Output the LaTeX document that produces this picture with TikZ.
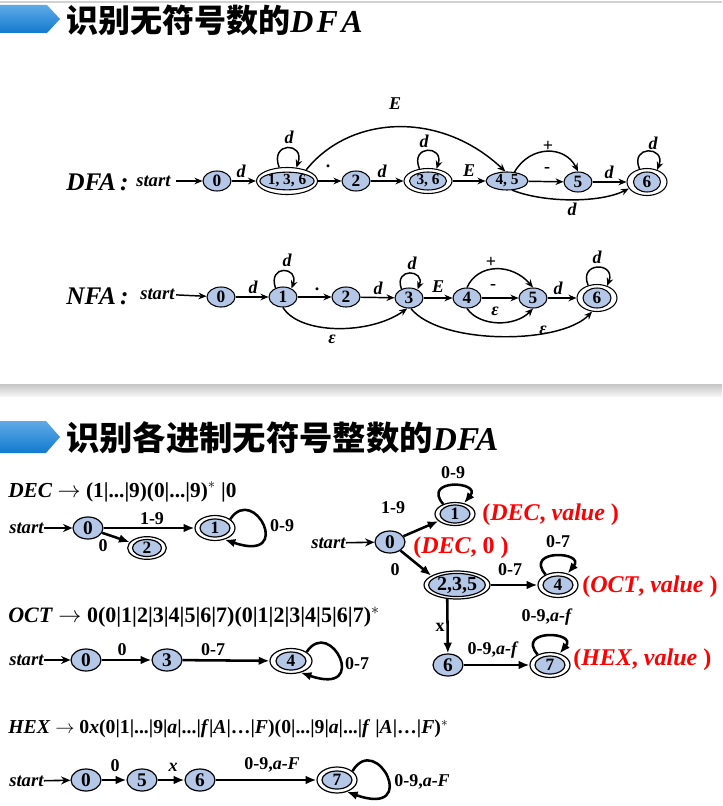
\documentclass[tikz,border=0pt]{standalone}
\usepackage{fontspec}
\setmainfont{Liberation Serif}
\newfontfamily\cjk{Noto Sans CJK SC}
\usetikzlibrary{shapes.geometric,arrows.meta}
\definecolor{nb}{RGB}{180,199,231}
\definecolor{bannerA}{RGB}{95,170,230}
\definecolor{bannerB}{RGB}{18,122,206}
\newcommand{\myfs}[1]{\fontsize{#1}{#1}\selectfont}
\begin{document}
\begin{tikzpicture}[x=0.75pt,y=-0.75pt,
  tarr/.style={line width=1.1pt,-{Stealth[length=6pt,width=5pt]}},
  barr/.style={line width=1.9pt,-{Latex[length=8pt,width=6.5pt]}},
  sarr/.style={line width=1.2pt,-{Stealth[length=7pt,width=6pt]}},
  tnode/.style={ellipse,draw,line width=0.8pt,fill=nb,inner sep=0pt,minimum width=21pt,minimum height=15pt,font=\bfseries\myfs{13}},
  touter/.style={ellipse,draw,line width=0.8pt,fill=white,inner sep=0pt},
  tinner/.style={ellipse,draw,line width=0.8pt,fill=nb,inner sep=0pt,font=\bfseries\myfs{13}},
  bnode/.style={ellipse,draw,line width=0.9pt,fill=nb,inner sep=0pt,minimum width=22.5pt,minimum height=16.5pt,font=\bfseries\myfs{14.5}},
  bouter/.style={ellipse,draw,line width=0.9pt,fill=white,inner sep=0pt,minimum width=30pt,minimum height=18.75pt},
  binner/.style={ellipse,draw,line width=0.9pt,fill=nb,inner sep=0pt,minimum width=22.5pt,minimum height=13.5pt,font=\bfseries\myfs{13}},
  tl/.style={inner sep=0pt,font=\bfseries\itshape\myfs{13.5}},
  tlb/.style={inner sep=0pt,font=\bfseries\myfs{13.5}},
  tlbig/.style={inner sep=0pt,anchor=west,font=\bfseries\itshape\myfs{19}},
  tstart/.style={inner sep=0pt,anchor=west,font=\bfseries\itshape\myfs{14}},
  blb/.style={inner sep=0pt,font=\bfseries\myfs{13.5}},
  formula/.style={inner sep=0pt,anchor=west,font=\bfseries\myfs{16}},
  redtxt/.style={inner sep=0pt,anchor=west,text=red,font=\bfseries\myfs{18}}
]
\useasboundingbox (0,0) rectangle (722,806);
\fill[white] (0,0) rectangle (722,806);
\draw[gray!35,line width=1pt] (0,2) -- (722,2);

% ---------- banner 1 ----------
\shade[top color=bannerA,bottom color=bannerB] (0,5) -- (47,5) -- (60,19) -- (47,33) -- (0,33) -- cycle;
\node[inner sep=0pt,anchor=west] (title1) at (66,20) {\cjk\bfseries\myfs{24}识别无符号数的\rmfamily\bfseries\itshape D\kern2.5pt F\kern2.5pt A};

% ---------- DFA ----------
\node[tlbig] (dfaL) at (66,182) {DFA\,:};
\node[tstart] (dst) at (136,181) {start};
\node[tnode] (d0) at (217,181) {0};
\node[touter,minimum width=45.75pt,minimum height=20.25pt] (d136o) at (287,181) {};
\node[tinner,minimum width=37.5pt,minimum height=12.75pt,font=\bfseries\myfs{11.5}] (d136) at (287,181) {1,\ 3,\ 6};
\node[tnode] (d2) at (356,181) {2};
\node[touter,minimum width=36pt,minimum height=18.75pt] (d36o) at (428,181) {};
\node[tinner,minimum width=27.75pt,minimum height=13.5pt,font=\bfseries\myfs{11.5}] (d36) at (428,181) {3,\ 6};
\node[tnode,minimum width=31.5pt,minimum height=13.5pt,font=\bfseries\myfs{11.5}] (d45) at (507,181) {4,\ 5};
\node[tnode] (d5) at (578,182) {5};
\node[touter,minimum width=30pt,minimum height=20.25pt] (d6o) at (647,182) {};
\node[tinner,minimum width=20.25pt,minimum height=15pt] (d6) at (647,182) {6};

\draw[tarr,shorten <=4pt] (dst) -- (d0);
\draw[tarr] (d0) -- (d136o);
\draw[tarr] (d136o) -- (d2);
\draw[tarr] (d2) -- (d36o);
\draw[tarr] (d36o) -- (d45);
\draw[tarr] (d45) -- (d5);
\draw[tarr] (d5) -- (d6o);
\draw[tarr] (d136o.120) .. controls +(-10,-26) and +(9,-26) .. (d136o.55);
\draw[tarr] (d36o.125) .. controls +(-10,-24) and +(8,-24) .. (d36o.55);
\draw[tarr] (d6o.120) .. controls +(-10,-24) and +(9,-24) .. (d6o.50);
\draw[tarr] (d136o.30) .. controls (350,115) and (440,110) .. (d45.100);
\draw[tarr] (d45.50) .. controls (530,145) and (565,145) .. (d5.north);
\draw[tarr] (d45.-60) .. controls (545,203) and (600,203) .. (d6o.200);

\node[tl] (lE1) at (395,104) {E};
\node[tl] (ld01) at (241,171) {d};
\node[tl] (ld136) at (289,137) {d};
\node[tlb] (ldot1) at (328,166) {.};
\node[tl] (ld2) at (382,171) {d};
\node[tl] (ld36) at (424,141) {d};
\node[tl] (lE2) at (469,171) {E};
\node[tlb] (lplus1) at (548,146) {+};
\node[tlb] (lminus1) at (547,170) {-};
\node[tl] (ld5) at (609,172) {d};
\node[tl] (ld45) at (572,209) {d};
\node[tl] (ld6) at (653,143) {d};

% ---------- NFA ----------
\node[tlbig] (nfaL) at (66,296) {NFA\,:};
\node[tstart] (nst) at (140,294) {start};
\node[tnode] (n0) at (221,297) {0};
\node[tnode] (n1) at (283,297) {1};
\node[tnode] (n2) at (346,297) {2};
\node[tnode] (n3) at (409,298) {3};
\node[tnode] (n4) at (467,298) {4};
\node[tnode] (n5) at (533,298) {5};
\node[touter,minimum width=30pt,minimum height=20.25pt] (n6o) at (597,298) {};
\node[tinner,minimum width=21pt,minimum height=15pt] (n6) at (597,298) {6};

\draw[tarr,shorten <=1pt] (nst) -- (n0);
\draw[tarr] (n0) -- (n1);
\draw[tarr] (n1) -- (n2);
\draw[tarr] (n2) -- (n3);
\draw[tarr] (n3) -- (n4);
\draw[tarr] (n4) -- (n5);
\draw[tarr] (n5) -- (n6o);
\draw[tarr] (n1.130) .. controls +(-8,-24) and +(8,-22) .. (n1.45);
\draw[tarr] (n3.130) .. controls +(-8,-22) and +(8,-20) .. (n3.45);
\draw[tarr] (n6o.125) .. controls +(-10,-24) and +(9,-24) .. (n6o.50);
\draw[tarr] (n4.north) .. controls (478,263) and (512,263) .. (n5.north);
\draw[tarr] (n4.south) .. controls (480,327) and (515,327) .. (n5.south);
\draw[tarr] (n1.south) .. controls (300,335) and (370,335) .. (n3.-100);
\draw[tarr] (n3.-80) .. controls (440,345) and (560,345) .. (n6o.250);

\node[tl] (nd01) at (253,287) {d};
\node[tl] (nd1) at (287,260) {d};
\node[tlb] (ndot) at (317,289) {.};
\node[tl] (nd2) at (378,288) {d};
\node[tl] (nd3) at (412,263) {d};
\node[tl] (nE) at (438,287) {E};
\node[tlb] (nplus) at (491,262) {+};
\node[tlb] (nminus) at (493,287) {-};
\node[tl] (neps45) at (495,311) {ε};
\node[tl] (nd5) at (558,288) {d};
\node[tl] (nd6) at (597,257) {d};
\node[tl] (neps13) at (332,339) {ε};
\node[tl] (neps36) at (543,330) {ε};

% ---------- separator ----------
\shade[top color=gray!45,bottom color=gray!8] (0,384) rectangle (722,396);

% ---------- banner 2 ----------
\shade[top color=bannerA,bottom color=bannerB] (0,421) -- (46,421) -- (60,437) -- (46,453) -- (0,453) -- cycle;
\node[inner sep=0pt,anchor=west] (title2) at (66,438) {\cjk\bfseries\myfs{25}识别各进制无符号整数的\rmfamily\bfseries\itshape DFA};

% ---------- DEC ----------
\node[formula] (decf) at (8,492) {\textit{DEC} $\rightarrow$ (1|...|9)(0|...|9)$^*$ |0};
\node[tstart] (bst1) at (9,528) {start};
\node[bnode] (b0) at (88,528) {0};
\node[bouter] (b1o) at (215,528) {};
\node[binner] (b1) at (215,528) {1};
\node[bouter,minimum width=29pt,minimum height=17pt] (b2o) at (147,548) {};
\node[binner,minimum width=21.75pt,minimum height=12.75pt] (b2) at (147,548) {2};
\draw[sarr] (bst1) -- (b0);
\draw[barr] (b0) -- (b1o);
\draw[barr] (b0) -- (b2o);
\draw[barr] (b1o.30) .. controls +(24,-36) and +(70,24) .. (b1o.-50);
\node[blb] (lb19) at (152,519) {1-9};
\node[blb] (lb09) at (282,526) {0-9};
\node[blb] (lb0) at (103,546) {0};

% ---------- OCT ----------
\node[formula,font=\bfseries\myfs{16.5}] (octf) at (8,617) {\textit{OCT} $\rightarrow$ 0(0|1|2|3|4|5|6|7)(0|1|2|3|4|5|6|7)$^*$};
\node[tstart] (bst2) at (9,660) {start};
\node[bnode] (o0) at (86,660) {0};
\node[bnode] (o3) at (167,660) {3};
\node[bouter,minimum width=31.5pt] (o4o) at (291,661) {};
\node[binner] (o4) at (291,661) {4};
\draw[sarr] (bst2) -- (o0);
\draw[barr] (o0) -- (o3);
\draw[barr] (o3) -- (o4o);
\draw[barr] (o4o.30) .. controls +(24,-36) and +(70,24) .. (o4o.-50);
\node[blb] (lo0) at (122,650) {0};
\node[blb] (lo07) at (213,650) {0-7};
\node[blb] (lo07b) at (357,664) {0-7};

% ---------- HEX ----------
\node[formula,font=\bfseries\myfs{14.8}] (hexf) at (8,729) {\textit{HEX} $\rightarrow$ 0\textit{x}(0|1|...|9|\textit{a}|...|\textit{f}|\textit{A}|…|\textit{F})(0|...|9|\textit{a}|...|\textit{f} |\textit{A}|…|\textit{F})$^*$};
\node[tstart] (bst3) at (9,781) {start};
\node[bnode] (h0) at (86,780) {0};
\node[bnode] (h5) at (142,780) {5};
\node[bnode] (h6) at (200,780) {6};
\node[bouter,minimum height=19.5pt] (h7o) at (337,780) {};
\node[binner] (h7) at (337,780) {7};
\draw[sarr] (bst3) -- (h0);
\draw[barr] (h0) -- (h5);
\draw[barr] (h5) -- (h6);
\draw[barr] (h6) -- (h7o);
\draw[barr] (h7o.30) .. controls +(24,-40) and +(74,26) .. (h7o.-50);
\node[blb] (lh0) at (115,766) {0};
\node[tl] (lhx) at (173,767) {x};
\node[blb] (lh09) at (272,765) {0-9,\textit{a-F}};
\node[blb] (lh09b) at (422,782) {0-9,\textit{a-F}};

% ---------- right DFA ----------
\node[tstart] (rst) at (311,543) {start};
\node[bnode] (r0) at (390,542) {0};
\node[bouter,minimum height=17.25pt] (r1o) at (455,514) {};
\node[binner] (r1) at (455,514) {1};
\node[bouter,minimum width=49.5pt,minimum height=21pt] (r235o) at (457,585) {};
\node[binner,minimum width=37.5pt,minimum height=15pt,font=\bfseries\myfs{15}] (r235) at (457,585) {2,3,5};
\node[bouter] (r4o) at (558,585) {};
\node[binner] (r4) at (558,585) {4};
\node[bnode] (r6) at (448,665) {6};
\node[bouter] (r7o) at (550,665) {};
\node[binner] (r7) at (550,665) {7};
\draw[sarr] (rst) -- (r0);
\draw[barr] (r0) -- (r1o);
\draw[barr] (r0) -- (r235o.160);
\draw[barr] (r235o) -- (r4o);
\draw[barr] (r235o.235) -- (r6);
\draw[barr] (r6) -- (r7o);
\draw[barr] (r1o.140) .. controls +(-22,-26) and +(18,-22) .. (r1o.50);
\draw[barr] (r4o.140) .. controls +(-22,-26) and +(18,-22) .. (r4o.50);
\draw[barr] (r7o.140) .. controls +(-22,-26) and +(18,-22) .. (r7o.50);
\node[blb] (lr19) at (393,508) {1-9};
\node[blb] (lr09) at (453,473) {0-9};
\node[blb] (lr0) at (395,570) {0};
\node[blb] (lr07) at (510,570) {0-7};
\node[blb] (lr07b) at (558,542) {0-7};
\node[blb] (lrx) at (440,627) {x};
\node[blb] (lr09a) at (493,650) {0-9,\textit{a-f}};
\node[blb] (lr09b) at (547,617) {0-9,\textit{a-f}};
\node[redtxt] (rdec) at (482,515) {(\textit{DEC}, \textit{value} )};
\node[redtxt] (rdec0) at (413,548) {(\textit{DEC}, 0 )};
\node[redtxt] (roct) at (582,587) {(\textit{OCT}, \textit{value} )};
\node[redtxt] (rhex) at (573,660) {(\textit{HEX}, \textit{value} )};
\end{tikzpicture}
\end{document}
